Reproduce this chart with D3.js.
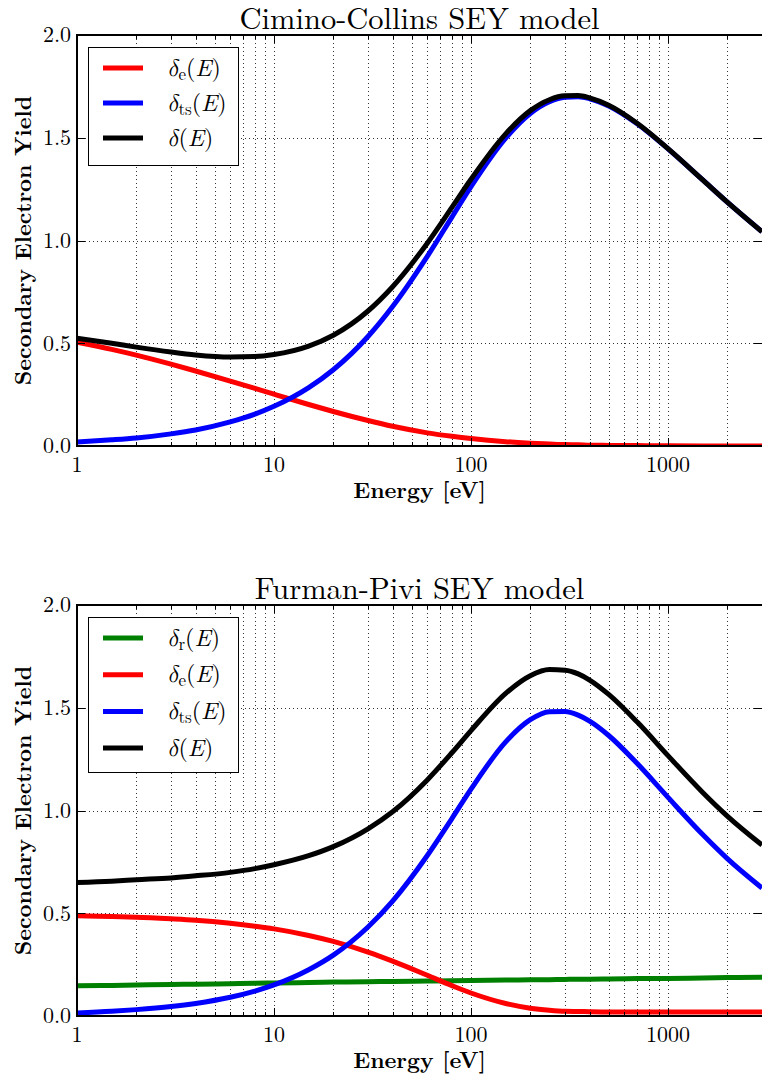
<!DOCTYPE html>
<html>
<head>
<meta charset="utf-8">
<script src="https://cdn.jsdelivr.net/npm/d3@7"></script>
<style>
  html, body { margin: 0; padding: 0; background: #fff; }
  svg { display: block; }
</style>
</head>
<body>
<svg id="fig" width="762" height="1076"></svg>
<script>
// Primary electron energies [eV] at which the yields are tabulated
const energies = [1, 1.5, 2, 3, 4, 6, 8, 10, 15, 20, 30, 40, 60, 80, 100, 150, 200, 250, 300, 350, 400, 500, 700, 1000, 1500, 2000, 3000];

// Cimino-Collins model components
const ccElastic = [0.505, 0.470, 0.442, 0.398, 0.365, 0.316, 0.280, 0.252, 0.202, 0.168, 0.124, 0.096, 0.064, 0.047, 0.036, 0.021, 0.014, 0.010, 0.007, 0.006, 0.004, 0.003, 0.002, 0.001, 0.0004, 0.0003, 0.0001];
const ccTrueSec = [0.020, 0.030, 0.039, 0.059, 0.078, 0.117, 0.155, 0.193, 0.284, 0.371, 0.533, 0.679, 0.923, 1.114, 1.262, 1.498, 1.618, 1.675, 1.697, 1.699, 1.690, 1.655, 1.567, 1.446, 1.295, 1.187, 1.043];
const ccTotal   = [0.525, 0.500, 0.481, 0.457, 0.443, 0.433, 0.435, 0.445, 0.486, 0.539, 0.657, 0.775, 0.987, 1.161, 1.298, 1.519, 1.632, 1.685, 1.704, 1.705, 1.694, 1.658, 1.569, 1.447, 1.295, 1.187, 1.043];

// Furman-Pivi model components
const fpRediffused = [0.147, 0.149, 0.151, 0.153, 0.155, 0.157, 0.159, 0.161, 0.163, 0.165, 0.167, 0.168, 0.170, 0.172, 0.173, 0.175, 0.176, 0.177, 0.178, 0.179, 0.179, 0.180, 0.182, 0.183, 0.185, 0.187, 0.189];
const fpElastic    = [0.488, 0.484, 0.481, 0.473, 0.466, 0.451, 0.437, 0.424, 0.392, 0.363, 0.311, 0.267, 0.198, 0.148, 0.112, 0.061, 0.038, 0.028, 0.023, 0.022, 0.021, 0.020, 0.020, 0.020, 0.020, 0.020, 0.020];
const fpTrueSec    = [0.015, 0.023, 0.031, 0.046, 0.061, 0.091, 0.121, 0.151, 0.225, 0.296, 0.433, 0.559, 0.781, 0.961, 1.104, 1.334, 1.442, 1.481, 1.482, 1.464, 1.435, 1.365, 1.227, 1.064, 0.883, 0.766, 0.623];
const fpTotal      = [0.650, 0.656, 0.663, 0.672, 0.682, 0.699, 0.717, 0.736, 0.780, 0.824, 0.911, 0.994, 1.149, 1.281, 1.389, 1.570, 1.656, 1.686, 1.683, 1.665, 1.635, 1.565, 1.429, 1.267, 1.088, 0.973, 0.832];

// Axis settings and labels
const energyDomain = [1, 3000];
const yieldDomain = [0, 2];
const yTickValues = [0, 0.5, 1.0, 1.5, 2.0];
const yGridValues = [0.5, 1.0, 1.5];
const panelTitles = ["Cimino-Collins SEY model", "Furman-Pivi SEY model"];
const xLabel = "Energy [eV]";
const yLabel = "Secondary Electron Yield";

const FONT = '"Latin Modern Roman", "CMU Serif", "Liberation Serif", serif';
const GREEK = '"Latin Modern Math", "Latin Modern Roman", "DejaVu Serif", serif';
const svg = d3.select("#fig");

const panels = [
  {
    title: panelTitles[0], top: 35, bottom: 446,
    series: [
      { values: ccElastic, color: "#ff0000", sub: "e" },
      { values: ccTrueSec, color: "#0000ff", sub: "ts" },
      { values: ccTotal,   color: "#000000", sub: null }
    ]
  },
  {
    title: panelTitles[1], top: 605, bottom: 1016,
    series: [
      { values: fpRediffused, color: "#008000", sub: "r" },
      { values: fpElastic,    color: "#ff0000", sub: "e" },
      { values: fpTrueSec,    color: "#0000ff", sub: "ts" },
      { values: fpTotal,      color: "#000000", sub: null }
    ]
  }
];

const left = 77, right = 762;

panels.forEach((p, pi) => {
  const g = svg.append("g");
  const x = d3.scaleLog().domain(energyDomain).range([left, right]);
  const y = d3.scaleLinear().domain(yieldDomain).range([p.bottom, p.top]);
  const xTicks = x.ticks();
  const isMajor = v => Math.abs(Math.log10(v) - Math.round(Math.log10(v))) < 1e-9;

  const clipId = "clip" + pi;
  svg.append("clipPath").attr("id", clipId)
    .append("rect").attr("x", left).attr("y", p.top)
    .attr("width", right - left + 2).attr("height", p.bottom - p.top);

  // dotted grid
  const grid = g.append("g").attr("stroke", "#000").attr("stroke-width", 0.8)
    .attr("stroke-dasharray", "1,3").attr("fill", "none");
  grid.selectAll("line.v").data(xTicks.filter(v => v > energyDomain[0])).join("line")
    .attr("class", "v")
    .attr("x1", d => Math.round(x(d)) + 0.5).attr("x2", d => Math.round(x(d)) + 0.5)
    .attr("y1", p.top).attr("y2", p.bottom);
  grid.selectAll("line.h").data(yGridValues).join("line")
    .attr("class", "h")
    .attr("x1", left).attr("x2", right)
    .attr("y1", d => Math.round(y(d)) + 0.5).attr("y2", d => Math.round(y(d)) + 0.5);

  // curves
  const line = d3.line()
    .x((d, i) => x(energies[i]))
    .y(d => y(d))
    .curve(d3.curveMonotoneX);
  const curves = g.append("g").attr("clip-path", `url(#${clipId})`);
  p.series.forEach(s => {
    curves.append("path").attr("d", line(s.values))
      .attr("fill", "none").attr("stroke", s.color)
      .attr("stroke-width", 5).attr("stroke-linejoin", "round");
  });

  // ticks (inward, all four sides)
  const ticks = g.append("g").attr("stroke", "#000").attr("stroke-width", 1);
  xTicks.forEach(v => {
    const len = isMajor(v) ? 8 : 4;
    const xp = Math.round(x(v)) + 0.5;
    ticks.append("line").attr("x1", xp).attr("x2", xp).attr("y1", p.bottom).attr("y2", p.bottom - len);
    ticks.append("line").attr("x1", xp).attr("x2", xp).attr("y1", p.top).attr("y2", p.top + len);
  });
  yTickValues.forEach(v => {
    const yp = Math.round(y(v)) + 0.5;
    ticks.append("line").attr("x1", left).attr("x2", left + 8).attr("y1", yp).attr("y2", yp);
    ticks.append("line").attr("x1", right).attr("x2", right - 8).attr("y1", yp).attr("y2", yp);
  });

  // spines
  g.append("rect").attr("x", left).attr("y", p.top)
    .attr("width", right - left + 3).attr("height", p.bottom - p.top)
    .attr("fill", "none").attr("stroke", "#000").attr("stroke-width", 2);

  // tick labels
  g.append("g").selectAll("text").data(xTicks.filter(isMajor)).join("text")
    .attr("x", d => x(d)).attr("y", p.bottom + 26)
    .attr("text-anchor", "middle")
    .style("font-family", FONT).attr("font-size", 22).attr("fill", "#000")
    .text(d => d3.format("d")(d));
  g.append("g").selectAll("text").data(yTickValues).join("text")
    .attr("x", 71).attr("y", d => y(d)).attr("dy", "0.33em")
    .attr("text-anchor", "end")
    .style("font-family", FONT).attr("font-size", 22).attr("fill", "#000")
    .text(d => d3.format(".1f")(d));

  // title and axis labels
  g.append("text").attr("x", (left + right) / 2).attr("y", p.top - 6)
    .attr("text-anchor", "middle").style("font-family", FONT).attr("font-size", 30.5)
    .text(p.title);
  g.append("text").attr("x", (left + right) / 2).attr("y", p.bottom + 52)
    .attr("text-anchor", "middle").style("font-family", FONT).attr("font-size", 22.5)
    .attr("font-weight", "bold")
    .text(xLabel);
  g.append("text")
    .attr("transform", `translate(31,${(p.top + p.bottom) / 2}) rotate(-90)`)
    .attr("text-anchor", "middle").style("font-family", FONT).attr("font-size", 22.5)
    .attr("font-weight", "bold")
    .text(yLabel);

  // legend
  const n = p.series.length;
  const rowH = n === 3 ? 35 : 36.7;
  const boxTop = p.top + 12;
  const boxH = n === 3 ? 118 : 155;
  const lg = g.append("g");
  lg.append("rect").attr("x", 88.5).attr("y", boxTop + 0.5)
    .attr("width", 150).attr("height", boxH)
    .attr("fill", "#fff").attr("stroke", "#000").attr("stroke-width", 1);
  p.series.forEach((s, i) => {
    const cy = boxTop + 21 + i * rowH;
    lg.append("line").attr("x1", 103).attr("x2", 143).attr("y1", cy).attr("y2", cy)
      .attr("stroke", s.color).attr("stroke-width", 5);
    const t = lg.append("text").attr("x", 167).attr("y", cy + 7.5)
      .style("font-family", FONT).attr("font-size", 24).attr("fill", "#000");
    t.append("tspan").style("font-family", GREEK).attr("font-style", "italic").text("δ");
    if (s.sub) {
      t.append("tspan").attr("font-size", 17).attr("dy", 4).text(s.sub);
      t.append("tspan").attr("dy", -4).text("(");
    } else {
      t.append("tspan").text("(");
    }
    t.append("tspan").attr("font-style", "italic").text("E");
    t.append("tspan").text(")");
  });
});
</script>
</body>
</html>
